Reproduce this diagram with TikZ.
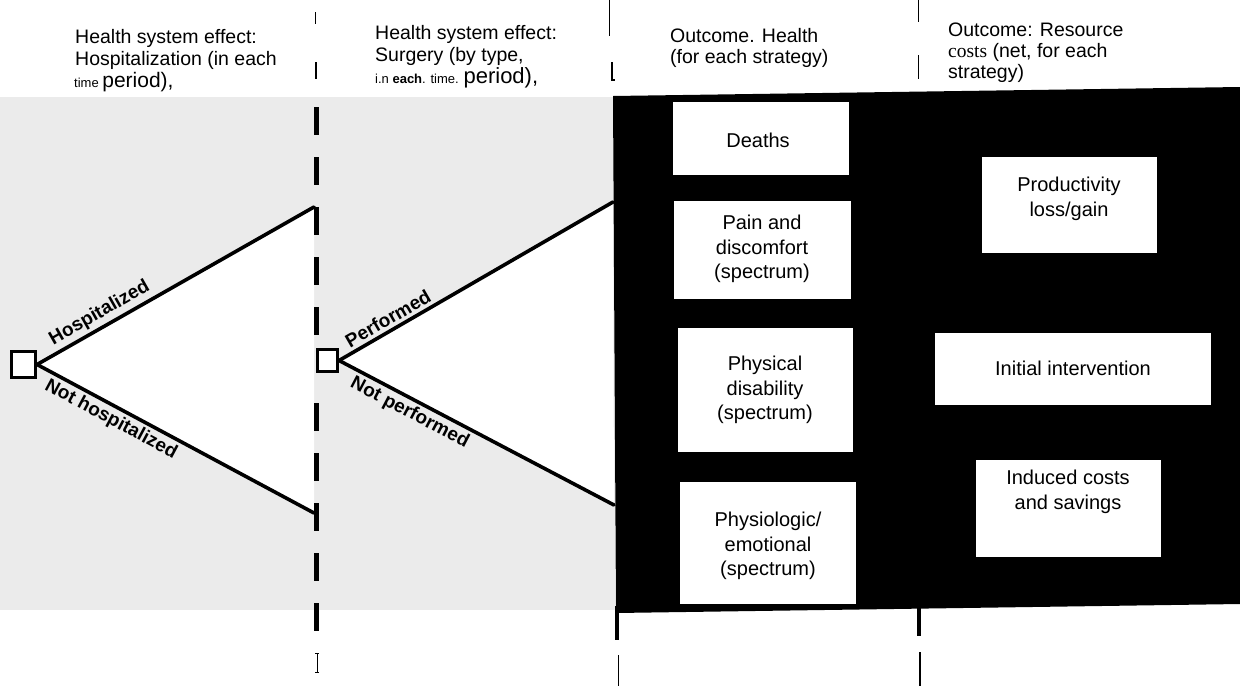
\documentclass[tikz,border=0pt]{standalone}
\usepackage{fontspec}
\setmainfont{Liberation Sans}
\newfontfamily\timesfont{Liberation Serif}
\pgfdeclarelayer{bg}
\pgfsetlayers{bg,main}
\begin{document}
\begin{tikzpicture}[x=1pt,y=-1pt,
  hdr/.style={anchor=base west, inner sep=0pt, font=\fontsize{19.5}{22}\selectfont},
  obox/.style={fill=white, draw=none, inner sep=0pt},
  otext/.style={align=center, inner sep=0pt, font=\fontsize{20}{24.5}\selectfont},
  dec/.style={draw=black, line width=2.6pt, fill=white, inner sep=0pt},
  branch/.style={line width=3.6pt, line cap=round},
  blabel/.style={font=\fontsize{19}{21}\selectfont\bfseries, sloped, inner sep=1pt},
  vdash/.style={line width=5pt, dash pattern=on 28pt off 22pt},
  vthin/.style={line width=1pt},
]
\useasboundingbox (0,0) rectangle (1240,686);

% decision squares
\node[dec, minimum width=24.5pt, minimum height=26.5pt] (d1) at (23.5,364.5) {};
\node[dec, minimum width=20.5pt, minimum height=22.5pt] (d2) at (327.5,360.5) {};

% branch ends
\coordinate (h1) at (314,207);
\coordinate (n1) at (314,513);
\coordinate (p2) at (613,202);
\coordinate (q2) at (614,505);

\begin{pgfonlayer}{bg}
  \fill[white] (0,0) rectangle (1240,686);
  \fill[black!8] (0,97) rectangle (615,610);
  \fill[black] (613,96) -- (1240,87) -- (1240,604) -- (616,613) -- cycle;
  \fill[white] (d1.east) -- (h1) -- (n1) -- cycle;
  \fill[white] (d2.east) -- (p2) -- (q2) -- cycle;
\end{pgfonlayer}

% outcome boxes
\node[obox, minimum width=176pt, minimum height=73pt] (bDeaths) at (761,138.5) {};
\node[obox, minimum width=177pt, minimum height=98pt] (bPain) at (762.5,250) {};
\node[obox, minimum width=175pt, minimum height=124pt] (bPhys) at (765.5,390) {};
\node[obox, minimum width=176pt, minimum height=122pt] (bPsy) at (768,543) {};
\node[obox, minimum width=175pt, minimum height=96pt] (bProd) at (1069.5,205) {};
\node[obox, minimum width=276pt, minimum height=72pt] (bInit) at (1073,369) {};
\node[obox, minimum width=185pt, minimum height=97pt] (bInd) at (1068.5,508.5) {};

\node[otext] (tDeaths) at (758,140) {Deaths};
\node[otext] (tPain) at (762,249) {Pain and\\discomfort\\(spectrum)};
\node[otext] (tPhys) at (765,390) {Physical\\disability\\(spectrum)};
\node[otext] (tPsy) at (768,546) {Physiologic/\\emotional\\(spectrum)};
\node[otext] (tProd) at (1069,199) {Productivity\\loss/gain};
\node[otext] (tInit) at (1073,368) {Initial intervention};
\node[otext] (tInd) at (1068,492) {Induced costs\\and savings};

% vertical dashed separators
\draw[vdash] (316,107) -- (316,340);
\draw[vdash] (316,403) -- (316,640);
\draw[line width=4pt] (617,606) -- (617,640);
\draw[line width=1pt] (618,655) -- (618,686);
\draw[line width=4pt] (919,600) -- (919,636);
\draw[line width=2.2pt] (920,652) -- (920,686);

% header marks
\draw[vthin] (315,12) -- (315,24);
\draw[line width=1.6pt] (316,62) -- (316,79);
\draw[vthin] (609,0) -- (609,36);
\draw[line width=1.2pt] (612,62) -- (612,80) -- (615,80);
\draw[vthin] (918,0) -- (918,22);
\draw[vthin] (918,55) -- (918,79);
\draw[line width=0.8pt] (317,653) -- (317,672);
\draw[line width=0.8pt] (315,653) -- (319,653);
\draw[line width=0.8pt] (315,672) -- (319,672);

% branches
\draw[branch] (d1.east) -- (h1) node[blabel, pos=0.25, above=2pt] (lh) {Hospitalized};
\draw[branch] (d1.east) -- (n1) node[blabel, pos=0.29, below=2pt] (ln) {Not hospitalized};
\draw[branch] (d2.east) -- (p2) node[blabel, pos=0.2, above=2pt] (lp) {Performed};
\draw[branch] (d2.east) -- (q2) node[blabel, pos=0.28, below=2pt] (lq) {Not performed};

% headers
\node[hdr] (c1a) at (75,43) {Health system effect:};
\node[hdr] (c1b) at (75,65) {Hospitalization (in each};
\node[hdr] (c1c) at (74,87) {{\fontsize{13}{15}\selectfont time }{\fontsize{21}{23}\selectfont period),}};
\node[hdr] (c2a) at (375,39) {Health system effect:};
\node[hdr] (c2b) at (375,61) {Surgery (by type,};
\node[hdr] (c2c) at (375,83) {{\fontsize{13}{15}\selectfont i.n \textbf{each}. time. }{\fontsize{22}{24}\selectfont period),}};
\node[hdr] (c3a) at (670,42) {Outcome. Health};
\node[hdr] (c3b) at (670,63) {(for each strategy)};
\node[hdr] (c4a) at (948,36) {Outcome: Resource};
\node[hdr] (c4b) at (948,57) {{\timesfont costs} (net, for each};
\node[hdr] (c4c) at (948,78) {strategy)};
\end{tikzpicture}
\end{document}
